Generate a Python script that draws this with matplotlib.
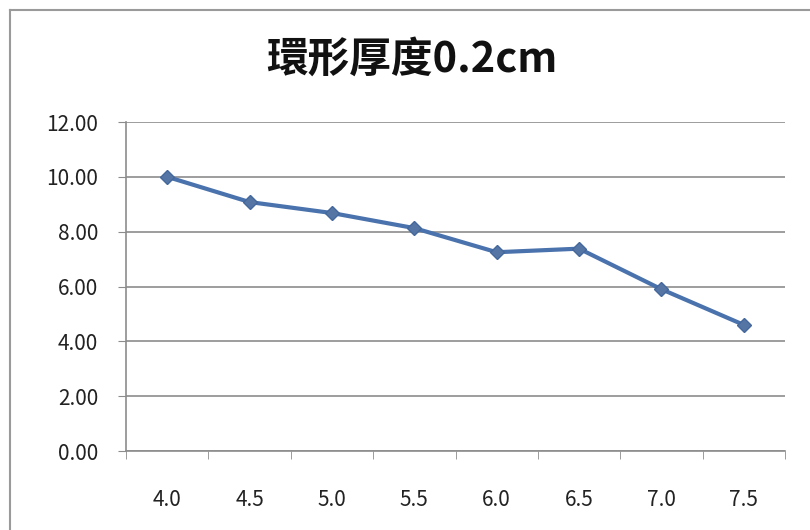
import matplotlib
matplotlib.use("Agg")
import matplotlib.pyplot as plt
from matplotlib.ticker import FixedLocator, FormatStrFormatter
from matplotlib.lines import Line2D

plt.rcParams['font.family'] = ['Noto Sans CJK TC', 'DejaVu Sans']

title = "環形厚度0.2cm"
categories = ["4.0", "4.5", "5.0", "5.5", "6.0", "6.5", "7.0", "7.5"]
values = [10.00, 9.08, 8.68, 8.13, 7.25, 7.38, 5.90, 4.60]
yticks = [0, 2, 4, 6, 8, 10, 12]

W, H = 810, 530
fig = plt.figure(figsize=(W / 100, H / 100), dpi=100)
ax = fig.add_axes([126 / W, 1 - 451 / H, (785 - 126) / W, (451 - 122) / H])

x = list(range(len(categories)))
line_color = '#4A72AC'
ax.plot(x, values, color=line_color, lw=3, marker='D', markersize=7,
        markerfacecolor='#5575A5', markeredgecolor='#44689C', zorder=3)

ax.set_xlim(-0.5, len(categories) - 0.5)
ax.set_ylim(0, 12)
ax.yaxis.set_major_locator(FixedLocator(yticks))
ax.yaxis.set_major_formatter(FormatStrFormatter('%.2f'))
ax.set_xticks(x)
ax.set_xticklabels(categories)
ax.xaxis.set_minor_locator(FixedLocator([i + 0.5 for i in range(-1, len(categories))]))

grid_color = '#8C8C8C'
ax.grid(axis='y', color=grid_color, lw=1.2)
ax.set_axisbelow(True)
for s in ['top', 'right']:
    ax.spines[s].set_visible(False)
for s in ['left', 'bottom']:
    ax.spines[s].set_color(grid_color)
    ax.spines[s].set_linewidth(1.2)

ax.tick_params(axis='y', which='major', direction='out', length=6, color=grid_color,
               labelsize=15, labelcolor='#222222', pad=14)
ax.tick_params(axis='x', which='major', length=0, labelsize=15, labelcolor='#222222', pad=27)
ax.tick_params(axis='x', which='minor', direction='out', length=6, color=grid_color)

fig.text(412 / W, 1 - 60 / H, title, ha='center', va='center', fontsize=30,
         fontweight='semibold', color='#111111')

# outer chart frame
frame_color = '#9A9A9A'
fig.add_artist(Line2D([10 / W, 10 / W], [0, 1 - 10 / H], color=frame_color, lw=1.5,
                      transform=fig.transFigure))
fig.add_artist(Line2D([10 / W, 1], [1 - 10 / H, 1 - 10 / H], color=frame_color, lw=1.5,
                      transform=fig.transFigure))

fig.savefig('out.png', dpi=100)
